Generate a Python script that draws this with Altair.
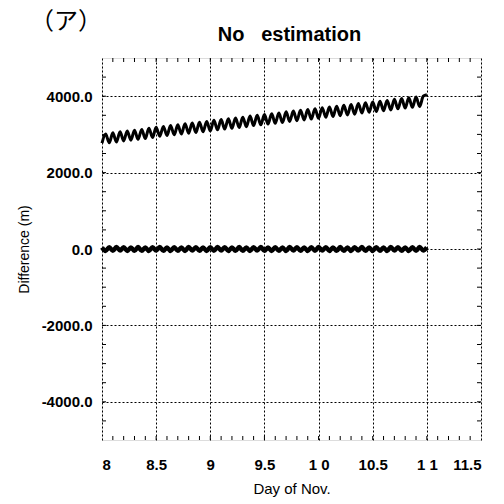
import altair as alt
import pandas as pd

# sample times (day of November)
days = [8.000, 8.033, 8.067, 8.100, 8.133, 8.167, 8.200, 8.233, 8.267, 8.300,
        8.333, 8.367, 8.400, 8.433, 8.467, 8.500, 8.533, 8.567, 8.600, 8.633,
        8.667, 8.700, 8.733, 8.767, 8.800, 8.833, 8.867, 8.900, 8.933, 8.967,
        9.000, 9.033, 9.067, 9.100, 9.133, 9.167, 9.200, 9.233, 9.267, 9.300,
        9.333, 9.367, 9.400, 9.433, 9.467, 9.500, 9.533, 9.567, 9.600, 9.633,
        9.667, 9.700, 9.733, 9.767, 9.800, 9.833, 9.867, 9.900, 9.933, 9.967,
        10.000, 10.033, 10.067, 10.100, 10.133, 10.167, 10.200, 10.233, 10.267, 10.300,
        10.333, 10.367, 10.400, 10.433, 10.467, 10.500, 10.533, 10.567, 10.600, 10.633,
        10.667, 10.700, 10.733, 10.767, 10.800, 10.833, 10.867, 10.900, 10.933, 10.967,
        11.000]

# difference without estimation (m)
no_est = [2770, 3010, 2780, 3040, 2800, 3070, 2830, 3090, 2850, 3110,
          2870, 3130, 2890, 3160, 2920, 3190, 2950, 3210, 2970, 3230,
          2990, 3250, 3010, 3280, 3030, 3300, 3050, 3320, 3070, 3340,
          3090, 3370, 3120, 3390, 3140, 3410, 3160, 3430, 3180, 3450,
          3200, 3480, 3230, 3500, 3250, 3520, 3270, 3540, 3290, 3560,
          3310, 3590, 3340, 3610, 3360, 3630, 3380, 3650, 3400, 3670,
          3420, 3700, 3450, 3720, 3470, 3740, 3490, 3760, 3510, 3780,
          3530, 3810, 3560, 3830, 3580, 3850, 3600, 3870, 3620, 3890,
          3640, 3920, 3670, 3940, 3690, 3960, 3710, 3980, 3730, 4000,
          4040]

# residual difference near zero (m)
near_zero = [40, -50, 45, -45, 50, -40, 45, -50, 40, -45,
             50, -45, 40, -50, 45, -40, 50, -45, 40, -50,
             45, -45, 40, -50, 50, -40, 45, -45, 40, -50,
             45, -45, 50, -40, 45, -50, 40, -45, 50, -45,
             40, -50, 45, -40, 50, -45, 40, -50, 45, -45,
             40, -50, 50, -40, 45, -45, 40, -50, 45, -45,
             50, -40, 45, -50, 40, -45, 50, -45, 40, -50,
             45, -40, 50, -45, 40, -50, 45, -45, 40, -50,
             50, -40, 45, -45, 40, -50, 45, -45, 50, -40,
             40]

x_ticks = [8, 8.5, 9, 9.5, 10, 10.5, 11, 11.5]
y_ticks = [-4000, -2000, 0, 2000, 4000]
x_minor = [round(8 + 0.1 * i, 1) for i in range(1, 35)]
y_minor = [-4500 + 500 * i for i in range(19)]

W, H = 379, 382

df = pd.DataFrame({
    "day": days * 2,
    "diff": no_est + near_zero,
    "series": ["no_est"] * len(days) + ["near_zero"] * len(days),
})

xs = alt.Scale(domain=[8, 11.5], nice=False, zero=False)
ys = alt.Scale(domain=[-5000, 5000], nice=False)

base = alt.Chart(df)

grid = alt.Chart(df).mark_line(opacity=0).encode(
    x=alt.X("day:Q", scale=xs,
            axis=alt.Axis(values=x_ticks, title="Day of Nov.", grid=True, format="~g",
                          gridColor="black", gridDash=[2, 2], gridWidth=1, gridOpacity=1,
                          ticks=False, domain=False, labelFontWeight="bold",
                          labelFontSize=15, labelPadding=17, titlePadding=9,
                          titleFontSize=15, titleFontWeight="normal",
                          labelExpr="datum.value == 10 ? '1 0' : (datum.value == 11 ? '1 1' : datum.label)")),
    y=alt.Y("diff:Q", scale=ys,
            axis=alt.Axis(values=y_ticks, title="Difference  (m)", grid=True, format=".1f",
                          gridColor="black", gridDash=[2, 2], gridWidth=1, gridOpacity=1,
                          ticks=False, domain=False, labelFontWeight="bold",
                          labelFontSize=15, labelPadding=10, titlePadding=10,
                          titleFontSize=14, titleFontWeight="normal",
                          labelExpr="replace(datum.label, '\u2212', '-')")),
)

lines = base.transform_filter(alt.datum.series == "no_est").mark_line(
    color="black", strokeWidth=3, interpolate="monotone").encode(
    x=alt.X("day:Q", scale=xs),
    y=alt.Y("diff:Q", scale=ys),
)

lines_zero = base.transform_filter(alt.datum.series == "near_zero").mark_line(
    color="black", strokeWidth=4.5, interpolate="monotone").encode(
    x=alt.X("day:Q", scale=xs),
    y=alt.Y("diff:Q", scale=ys),
)

xm = pd.DataFrame({"xm": x_minor})
ym = pd.DataFrame({"ym": y_minor})

xt_bottom = alt.Chart(xm).mark_rule(color="black", strokeWidth=1).encode(
    x=alt.X("xm:Q", scale=xs), y=alt.value(H), y2=alt.value(H - 4))
xt_top = alt.Chart(xm).mark_rule(color="black", strokeWidth=1).encode(
    x=alt.X("xm:Q", scale=xs), y=alt.value(0), y2=alt.value(4))
yt_left = alt.Chart(ym).mark_rule(color="black", strokeWidth=1).encode(
    y=alt.Y("ym:Q", scale=ys), x=alt.value(0), x2=alt.value(4))
yt_right = alt.Chart(ym).mark_rule(color="black", strokeWidth=1).encode(
    y=alt.Y("ym:Q", scale=ys), x=alt.value(W), x2=alt.value(W - 4))

label = alt.Chart(pd.DataFrame({"t": ["（ア）"]})).mark_text(
    font="Noto Sans CJK JP", fontSize=24, color="black", align="center", baseline="middle"
).encode(text="t:N", x=alt.value(-36), y=alt.value(-36))

title = alt.Chart(pd.DataFrame({"t": ["No\u00a0\u00a0\u00a0estimation"]})).mark_text(
    font="Liberation Sans", fontSize=20, fontWeight="bold", color="black",
    align="center", baseline="middle"
).encode(text="t:N", x=alt.value(W / 2 - 2), y=alt.value(-23))

chart = alt.layer(grid, lines, lines_zero, xt_bottom, xt_top, yt_left, yt_right,
                  label, title).properties(
    width=W, height=H,
    autosize=alt.AutoSizeParams(type="none"),
    padding={"left": 102, "top": 58, "right": 23, "bottom": 64},
).configure_view(
    stroke="black", strokeWidth=1.5
).configure_axis(
    labelFont="Liberation Sans", titleFont="Liberation Sans", labelColor="black",
    titleColor="black"
).configure(background="white")

chart.save("out.html", embed_options={"renderer": "svg", "actions": False})
